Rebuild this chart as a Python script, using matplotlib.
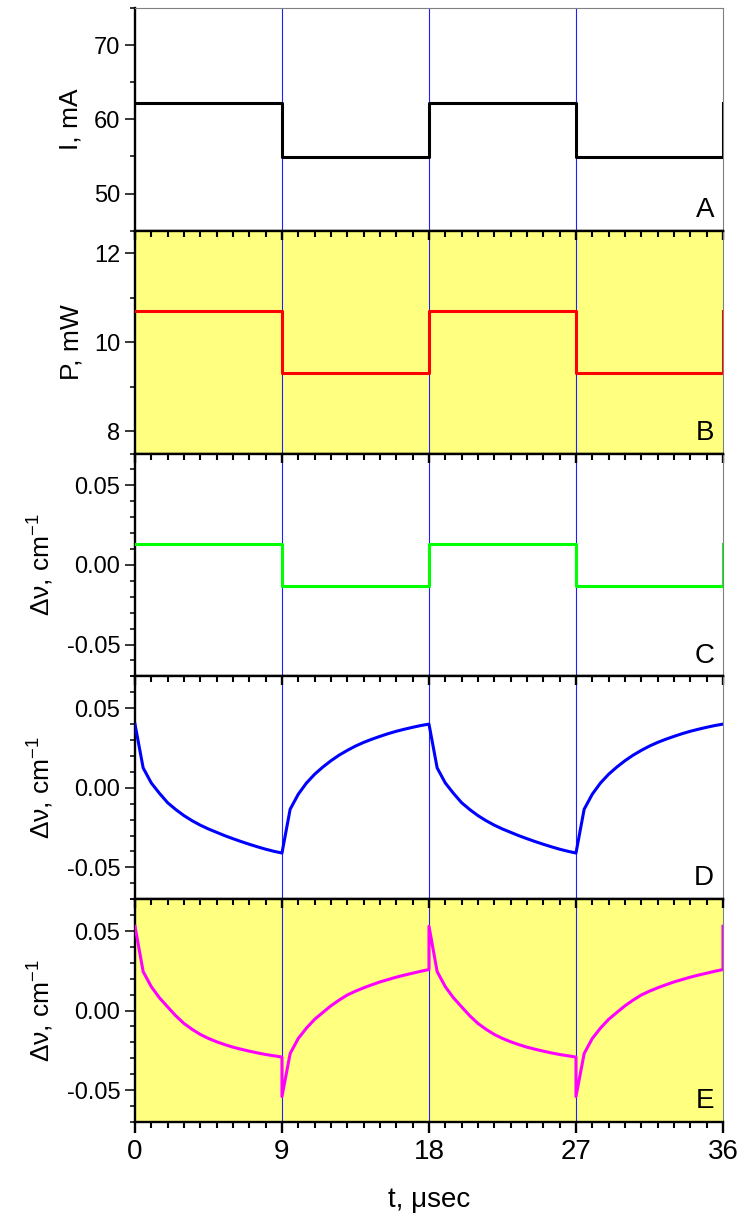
import numpy as np
import matplotlib
matplotlib.use("Agg")
import matplotlib.pyplot as plt
from matplotlib.ticker import MultipleLocator, FormatStrFormatter, AutoMinorLocator

# time axis of the square steps (usec)
t_step = [0, 9, 9, 18, 18, 27, 27, 36, 36]

# panel A: current, mA
i_step = [62.2, 62.2, 54.9, 54.9, 62.2, 62.2, 54.9, 54.9, 62.2]
# panel B: power, mW
p_step = [10.7, 10.7, 9.3, 9.3, 10.7, 10.7, 9.3, 9.3, 10.7]
# panel C: frequency shift, cm-1
c_step = [0.013, 0.013, -0.013, -0.013, 0.013, 0.013, -0.013, -0.013, 0.013]

# panel D: one period (0..18 usec)
t_d = [0, 0.5, 1, 1.5, 2, 2.5, 3, 3.5, 4, 4.5, 5, 5.5, 6, 6.5, 7, 7.5, 8, 8.5, 9,
       9.5, 10, 10.5, 11, 11.5, 12, 12.5, 13, 13.5, 14, 14.5, 15, 15.5, 16, 16.5, 17, 17.5, 18]
v_d = [0.040, 0.0125, 0.003, -0.0035, -0.0094, -0.0137, -0.0175, -0.0207, -0.0235, -0.0259,
       -0.028, -0.0301, -0.032, -0.0338, -0.0355, -0.0371, -0.0386, -0.0399, -0.041,
       -0.0135, -0.004, 0.003, 0.0085, 0.013, 0.017, 0.0205, 0.0235, 0.0262, 0.0285,
       0.0305, 0.0323, 0.034, 0.0355, 0.0368, 0.038, 0.0391, 0.040]

# panel E: one period (0..18 usec), with the spikes at the switching points
t_e = [0, 0.5, 1, 1.5, 2, 2.5, 3, 3.5, 4, 4.5, 5, 5.5, 6, 6.5, 7, 7.5, 8, 8.5, 9, 9,
       9.5, 10, 10.5, 11, 11.5, 12, 12.5, 13, 13.5, 14, 14.5, 15, 15.5, 16, 16.5, 17, 17.5, 18]
v_e = [0.053, 0.0245, 0.015, 0.008, 0.0023, -0.0033, -0.0081, -0.0118, -0.015, -0.0175,
       -0.0196, -0.0214, -0.023, -0.0243, -0.0255, -0.0266, -0.0276, -0.0284, -0.0292, -0.054,
       -0.027, -0.0175, -0.011, -0.0055, -0.0012, 0.003, 0.0066, 0.0098, 0.0122, 0.0143,
       0.0162, 0.018, 0.0195, 0.021, 0.0223, 0.0235, 0.0247, 0.0258]

period = 18
switch_times = [9, 18, 27]

YELLOW = '#ffff80'


def two_periods(t, v, end_value):
    # repeat the read period and close it at t=36
    t = np.asarray(t, dtype=float)
    v = np.asarray(v, dtype=float)
    tt = np.concatenate([t, t + period, [2 * period]])
    vv = np.concatenate([v, v, [end_value]])
    return tt, vv


def set_time_ticks(axis):
    # major every 9 usec, minor every 1 usec
    axis.set_major_locator(MultipleLocator(9))
    axis.set_minor_locator(AutoMinorLocator(9))


def top_ticks_in(ax):
    # frame line on top of the panel with inward ticks, no labels
    ax.spines['top'].set_visible(True)
    ax.spines['top'].set_linewidth(1.7)
    ax.spines['top'].set_color('black')
    ax.tick_params(axis='x', which='both', top=True, bottom=False, labeltop=False,
                   labelbottom=False, direction='in', color='black')
    ax.tick_params(axis='x', which='major', length=6.5, width=1.7)
    ax.tick_params(axis='x', which='minor', length=4.5, width=1.5)


def style_axis(ax, ylim, major, minor, fmt, ylabel, letter):
    ax.set_xlim(0, 36)
    ax.set_ylim(*ylim)
    ax.yaxis.set_major_locator(MultipleLocator(major))
    ax.yaxis.set_minor_locator(MultipleLocator(minor))
    ax.yaxis.set_major_formatter(FormatStrFormatter(fmt))
    set_time_ticks(ax.xaxis)

    for side in ['left', 'bottom']:
        ax.spines[side].set_linewidth(1.7)
        ax.spines[side].set_color('black')
    ax.spines['right'].set_linewidth(0.8)
    ax.spines['right'].set_color('#808080')
    ax.spines['top'].set_linewidth(0.8)
    ax.spines['top'].set_color('#808080')

    ax.tick_params(axis='y', which='major', direction='out', length=7.5, width=1.1,
                   labelsize=17, pad=3)
    ax.tick_params(axis='y', which='minor', direction='out', length=3.8, width=1.1)
    ax.tick_params(axis='y', which='both', right=False)
    ax.tick_params(axis='x', which='both', bottom=False, top=False,
                   labelbottom=False, labeltop=False)

    ax.set_ylabel(ylabel, fontsize=19, labelpad=8)
    ax.text(0.985, 0.035, letter, transform=ax.transAxes, ha='right', va='bottom',
            fontsize=20)
    for ts in switch_times:
        ax.axvline(ts, color='#2020ff', lw=0.8, zorder=1)


def main():
    plt.rcParams['font.family'] = ['Liberation Sans', 'DejaVu Sans']
    plt.rcParams['mathtext.default'] = 'regular'
    plt.rcParams['axes.unicode_minus'] = False

    fig, axes = plt.subplots(5, 1, figsize=(7.4, 12.23), dpi=100)
    fig.subplots_adjust(left=0.1824, right=0.977, top=0.9935, bottom=0.0826, hspace=0)

    ax_a, ax_b, ax_c, ax_d, ax_e = axes
    lw = 2.2
    dnu = 'Δν, cm$^{-1}$'

    # A: current
    ax_a.plot(t_step, i_step, color='black', lw=lw, zorder=3)
    style_axis(ax_a, (45, 75), 10, 5, '%d', 'I, mA', 'A')

    # B: power (yellow panel)
    ax_b.set_facecolor(YELLOW)
    ax_b.plot(t_step, p_step, color='red', lw=lw, zorder=3)
    style_axis(ax_b, (7.5, 12.5), 2, 1, '%d', 'P, mW', 'B')

    # C: step frequency shift
    ax_c.plot(t_step, c_step, color='#00ff00', lw=lw, zorder=3)
    style_axis(ax_c, (-0.07, 0.07), 0.05, 0.01, '%.2f', dnu, 'C')

    # D: thermal relaxation
    td, vd = two_periods(t_d, v_d, v_d[-1])
    ax_d.plot(td, vd, color='#0000ff', lw=lw, zorder=3)
    style_axis(ax_d, (-0.07, 0.07), 0.05, 0.01, '%.2f', dnu, 'D')

    # E: sum with spikes (yellow panel)
    ax_e.set_facecolor(YELLOW)
    te, ve = two_periods(t_e, v_e, v_e[0])
    ax_e.plot(te, ve, color='#ff00ff', lw=lw, zorder=3)
    style_axis(ax_e, (-0.07, 0.07), 0.05, 0.01, '%.2f', dnu, 'E')

    # panels B, C, D: inward ticks on their top frame line
    for ax in [ax_b, ax_c, ax_d]:
        top_ticks_in(ax)

    # E: inward ticks on top through a twin, outward labelled ticks at the bottom
    tw = ax_e.twiny()
    tw.set_xlim(0, 36)
    set_time_ticks(tw.xaxis)
    for side in ['left', 'right', 'bottom']:
        tw.spines[side].set_visible(False)
    top_ticks_in(tw)

    ax_e.tick_params(axis='x', which='both', bottom=True, labelbottom=True,
                     direction='out', color='black')
    ax_e.tick_params(axis='x', which='major', length=8, width=1.7, labelsize=20, pad=4)
    ax_e.tick_params(axis='x', which='minor', length=4.5, width=1.5)
    ax_e.set_xlabel('t, μsec', fontsize=20, labelpad=16)

    fig.savefig("out.png", dpi=100)


if __name__ == "__main__":
    main()
